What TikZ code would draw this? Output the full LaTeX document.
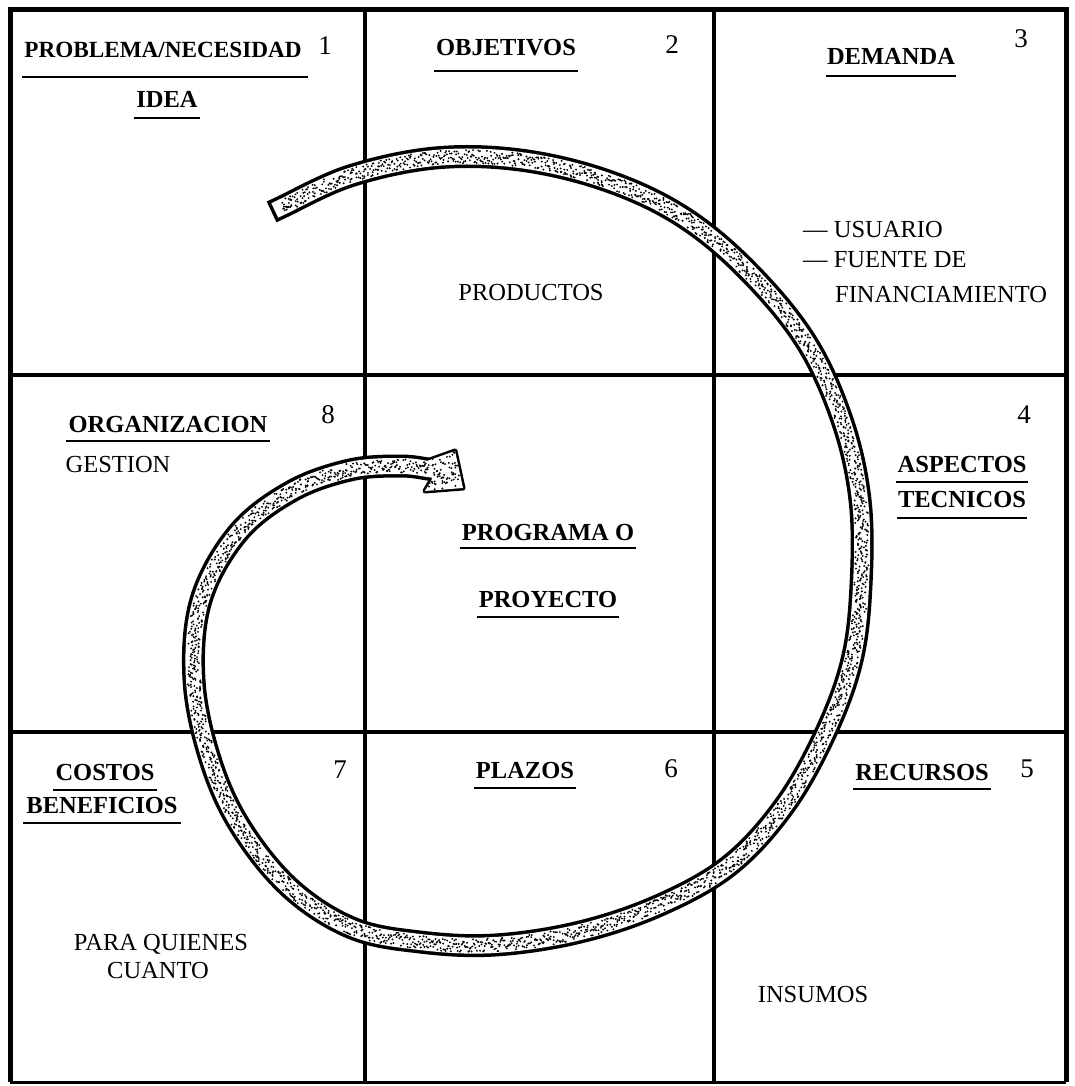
\documentclass[tikz,border=0pt]{standalone}
\usepackage{fontspec}
\setmainfont{Liberation Serif}
\begin{document}
\begin{tikzpicture}[x=1pt,y=-1pt,
  gridline/.style={line width=3.3pt},
  frameline/.style={line width=5pt},
  headtxt/.style={font=\fontsize{24.5}{28}\selectfont\bfseries, inner sep=0pt, anchor=base},
  bodytxt/.style={font=\fontsize{24.5}{28}\selectfont, inner sep=0pt, anchor=base},
  bodyleft/.style={font=\fontsize{24.5}{28}\selectfont, inner sep=0pt, anchor=base west},
  numtxt/.style={font=\fontsize{27}{30}\selectfont, inner sep=0pt, anchor=base},
  ulline/.style={line width=2.8pt},
  bandouter/.style={line width=23pt, line cap=rect, line join=round},
  bandinner/.style={white, line width=16pt, line cap=rect, line join=round}
]
\pgfmathsetseed{4242}
\useasboundingbox (0,0) rectangle (1074,1086);
\fill[white] (0,0) rectangle (1074,1086);

% grid
\draw[gridline] (365,10) -- (365,1082);
\draw[gridline] (714,10) -- (714,1082);
\draw[gridline] (10,375) -- (1066,375);
\draw[gridline] (10,732) -- (1066,732);
\draw[frameline] (10,1082) -- (10,10) -- (1066,10) -- (1066,1082);
\draw[line width=3pt] (10,1082) -- (1066,1082);

% texts
\newcommand\headul[6]{%
  \node[headtxt] (#1) at (#2,#3) {#4};
  \draw[ulline] ([xshift=-#6pt,yshift=-#5pt]#1.base west) -- ([xshift=#6pt,yshift=-#5pt]#1.base east);}

\node[headtxt, font=\fontsize{23.2}{26}\selectfont\bfseries] (t1) at (163,58) {PROBLEMA/NECESIDAD};
\draw[ulline] ([xshift=-2pt,yshift=-19pt]t1.base west) -- ([xshift=6pt,yshift=-19pt]t1.base east);
\headul{t1b}{167}{108}{IDEA}{10}{2}
\node[numtxt] (n1) at (325,55) {1};

\headul{t2}{506}{56}{OBJETIVOS}{15}{2}
\node[numtxt] (n2) at (672,54) {2};
\node[bodytxt] (prod) at (531,300) {PRODUCTOS};

\headul{t3}{891}{65}{DEMANDA}{11}{1}
\node[numtxt] (n3) at (1021,48) {3};
\node[bodyleft] (d1) at (803,237) {--- USUARIO};
\node[bodyleft] (d2) at (803,267) {--- FUENTE DE};
\node[bodyleft] (d3) at (835,302) {FINANCIAMIENTO};

\headul{t8}{168}{432}{ORGANIZACION}{9}{2}
\node[numtxt] (n8) at (328,423) {8};
\node[bodytxt] (gest) at (118,472) {GESTION};

\headul{tc1}{548}{540}{PROGRAMA O}{8}{2}
\headul{tc2}{548}{607}{PROYECTO}{10}{2}

\headul{t4a}{962}{472}{ASPECTOS}{10}{1}
\headul{t4b}{962}{507}{TECNICOS}{11}{1}
\node[numtxt] (n4) at (1024,423) {4};

\headul{t7a}{105}{780}{COSTOS}{10}{2}
\headul{t7b}{102}{813}{BENEFICIOS}{10}{3}
\node[numtxt] (n7) at (340,778) {7};
\node[bodytxt] (pq) at (161,950) {PARA QUIENES};
\node[bodytxt] (cu) at (158,978) {CUANTO};

\headul{t6}{525}{778}{PLAZOS}{10}{2}
\node[numtxt] (n6) at (671,777) {6};

\headul{t5}{922}{780}{RECURSOS}{9}{2}
\node[numtxt] (n5) at (1027,777) {5};
\node[bodytxt] (ins) at (813,1002) {INSUMOS};

% spiral arrow: centerline points (padded at both ends)
\def\xs{{282,282,350,435,520,605,680,745,805,842,860,861,852,826,785,730,660,580,495,420,352,290,240,210,194,201,238,292,350,400,428,428}}
\def\ys{{207,207,176,158,160,180,215,268,340,420,500,585,660,732,805,865,905,932,945,942,928,888,826,759,680,600,533,491,470,466,469,469}}
\def\nseg{28}

\draw[bandouter] (282,207) \foreach \i [evaluate=\i as \ia using int(\i+1), evaluate=\i as \ib using int(\i+2), evaluate=\i as \ic using int(\i+3)] in {0,...,\nseg} { .. controls ({\xs[\ia]+(\xs[\ib]-\xs[\i])/6},{\ys[\ia]+(\ys[\ib]-\ys[\i])/6}) and ({\xs[\ib]-(\xs[\ic]-\xs[\ia])/6},{\ys[\ib]-(\ys[\ic]-\ys[\ia])/6}) .. ({\xs[\ib]},{\ys[\ib]}) };
\draw[line width=5pt, line join=round, fill=black] (427,461) -- (455,451) -- (463,488) -- (425,491) -- (432,479) -- cycle;
\draw[bandinner] (282,207) \foreach \i [evaluate=\i as \ia using int(\i+1), evaluate=\i as \ib using int(\i+2), evaluate=\i as \ic using int(\i+3)] in {0,...,\nseg} { .. controls ({\xs[\ia]+(\xs[\ib]-\xs[\i])/6},{\ys[\ia]+(\ys[\ib]-\ys[\i])/6}) and ({\xs[\ib]-(\xs[\ic]-\xs[\ia])/6},{\ys[\ib]-(\ys[\ic]-\ys[\ia])/6}) .. ({\xs[\ib]},{\ys[\ib]}) };
\fill[white] (427,461) -- (455,451) -- (463,488) -- (425,491) -- (432,479) -- cycle;

% stipple dots along the band
\foreach \i in {0,...,\nseg} {
  \pgfmathtruncatemacro\ia{\i+1}
  \pgfmathtruncatemacro\ib{\i+2}
  \pgfmathtruncatemacro\ic{\i+3}
  \pgfmathsetmacro\ax{\xs[\ia]}
  \pgfmathsetmacro\ay{\ys[\ia]}
  \pgfmathsetmacro\dx{\xs[\ib]}
  \pgfmathsetmacro\dy{\ys[\ib]}
  \pgfmathsetmacro\bx{\ax+(\xs[\ib]-\xs[\i])/6}
  \pgfmathsetmacro\by{\ay+(\ys[\ib]-\ys[\i])/6}
  \pgfmathsetmacro\cx{\dx-(\xs[\ic]-\xs[\ia])/6}
  \pgfmathsetmacro\cy{\dy-(\ys[\ic]-\ys[\ia])/6}
  \pgfmathtruncatemacro\m{max(2,veclen(\dx-\ax,\dy-\ay)/1.5)}
  \foreach \s in {1,...,\m} {
    \pgfmathsetmacro\t{(\s-0.5)/\m}
    \pgfmathsetmacro\u{1-\t}
    \pgfmathsetmacro\qx{\u*\u*\u*\ax+3*\u*\u*\t*\bx+3*\u*\t*\t*\cx+\t*\t*\t*\dx}
    \pgfmathsetmacro\qy{\u*\u*\u*\ay+3*\u*\u*\t*\by+3*\u*\t*\t*\cy+\t*\t*\t*\dy}
    \pgfmathsetmacro\tx{3*\u*\u*(\bx-\ax)+6*\u*\t*(\cx-\bx)+3*\t*\t*(\dx-\cx)}
    \pgfmathsetmacro\ty{3*\u*\u*(\by-\ay)+6*\u*\t*(\cy-\by)+3*\t*\t*(\dy-\cy)}
    \pgfmathsetmacro\tl{veclen(\tx,\ty)}
    \pgfmathsetmacro\ra{6.7*rand}
    \pgfmathsetmacro\rb{6.7*rand}
    \fill ({\qx-\ty/\tl*\ra},{\qy+\tx/\tl*\ra}) circle (1.05pt);
    \fill ({\qx+0.75*\tx/\tl-\ty/\tl*\rb},{\qy+0.75*\ty/\tl+\tx/\tl*\rb}) circle (1.05pt);
  }
}
\begin{scope}
  \clip (427,461) -- (455,451) -- (463,488) -- (425,491) -- (432,479) -- cycle;
  \foreach \k in {1,...,110} {
    \pgfmathsetmacro\px{444+20*rand}
    \pgfmathsetmacro\py{471+21*rand}
    \fill (\px,\py) circle (1.05pt);
  }
\end{scope}
\end{tikzpicture}
\end{document}
